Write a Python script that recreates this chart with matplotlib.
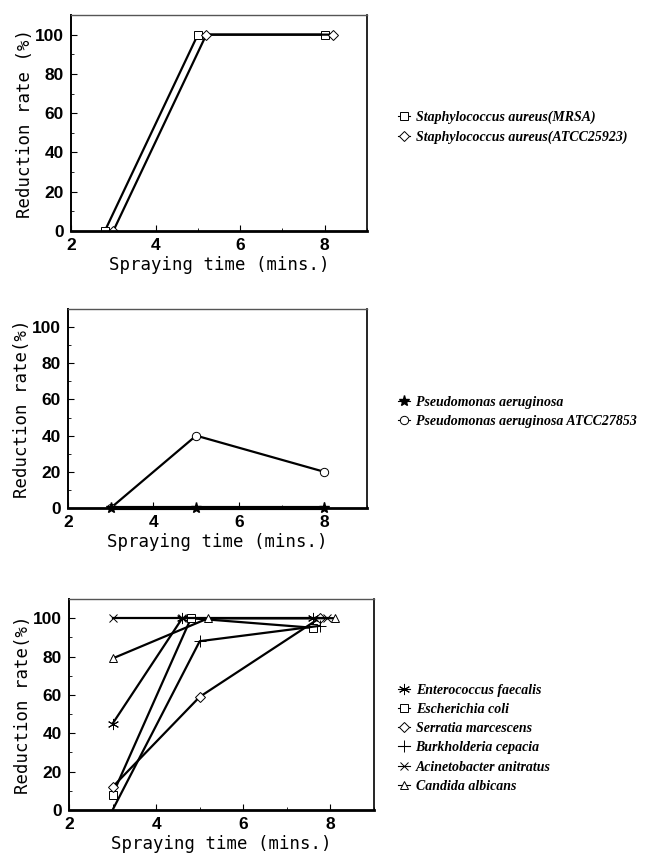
import matplotlib
matplotlib.use("Agg")
import matplotlib.pyplot as plt
from matplotlib.ticker import MultipleLocator
from matplotlib.font_manager import FontProperties

# panel 1 : Staphylococcus
mrsa_x = [2.8, 5.0, 8.0]
mrsa_y = [0, 100, 100]
atcc259_x = [3.0, 5.2, 8.2]
atcc259_y = [0, 100, 100]

# panel 2 : Pseudomonas
pa_x = [3, 5, 8]
pa_y = [0, 0, 0]
pa278_x = [3, 5, 8]
pa278_y = [0, 40, 20]

# panel 3 : other species
ent_x, ent_y = [3, 4.6, 7.6], [45, 100, 100]
eco_x, eco_y = [3, 4.8, 7.6], [8, 100, 95]
ser_x, ser_y = [3, 5.0, 7.75], [12, 59, 100]
bur_x, bur_y = [3, 5.0, 7.75], [0, 88, 96]
aci_x, aci_y = [3, 4.6, 7.93], [100, 100, 100]
can_x, can_y = [3, 5.2, 8.1], [79, 100, 100]

W, H = 652, 861
fig = plt.figure(figsize=(W / 100, H / 100), dpi=100)

mono = "DejaVu Sans Mono"
tickfont = {"family": "Liberation Sans", "size": 12.5, "weight": "bold"}
legfont = {"family": "Liberation Serif", "size": 10, "weight": "bold", "style": "italic"}


def make_axes(left, top, right, bottom):
    ax = fig.add_axes([left / W, 1 - bottom / H, (right - left) / W, (bottom - top) / H])
    ax.set_xlim(2, 9)
    ax.set_ylim(0, 110)
    ax.xaxis.set_minor_locator(MultipleLocator(1))
    ax.yaxis.set_major_locator(MultipleLocator(20))
    ax.yaxis.set_minor_locator(MultipleLocator(10))
    ax.set_xticks([2, 4, 6, 8])
    ax.tick_params(which="both", direction="in", top=False, right=False)
    ax.tick_params(which="major", length=4, width=0.8, pad=5)
    ax.tick_params(which="minor", length=2, width=0.6)
    for lab in ax.get_xticklabels() + ax.get_yticklabels():
        lab.set_fontproperties(FontProperties(**tickfont))
    ax.spines["bottom"].set_linewidth(2.0)
    ax.spines["left"].set_linewidth(1.4)
    ax.spines["right"].set_linewidth(1.2)
    ax.spines["top"].set_linewidth(1.0)
    ax.spines["top"].set_color("#555555")
    ax.set_xlabel("Spraying time (mins.)", family=mono, fontsize=12.5, labelpad=2)
    return ax


def legend(ax, x, y):
    leg = ax.legend(loc="upper left", bbox_to_anchor=(x / W, 1 - y / H),
                    bbox_transform=fig.transFigure, frameon=False,
                    prop=FontProperties(**legfont),
                    handlelength=0.9, handletextpad=0.4, labelspacing=0.45,
                    borderaxespad=0)
    for h in leg.legend_handles:
        h.set_linewidth(0.8)
    return leg


mk = dict(color="black", lw=1.6, mfc="white", mec="black", ms=6, mew=0.7)

ax1 = make_axes(71, 15, 367, 231)
ax1.plot(mrsa_x, mrsa_y, marker="s", label="Staphylococcus aureus(MRSA)", **mk)
ax1.plot(atcc259_x, atcc259_y, marker="D", label="Staphylococcus aureus(ATCC25923)",
         **{**mk, "ms": 5})
ax1.set_ylabel("Reduction rate (%)", family=mono, fontsize=12.5, labelpad=1)
legend(ax1, 392, 105)

ax2 = make_axes(68, 309, 367, 508)
ax2.plot(pa_x, pa_y, marker="*", color="black", lw=3, ms=8, mfc="black", mec="black",
         label="Pseudomonas aeruginosa", clip_on=False, zorder=3)
ax2.plot(pa278_x, pa278_y, marker="o", label="Pseudomonas aeruginosa ATCC27853", **mk)
ax2.set_ylabel("Reduction rate(%)", family=mono, fontsize=12.5, labelpad=1)
legend(ax2, 392, 390)

ax3 = make_axes(69, 599, 374, 810)
ax3.plot(ent_x, ent_y, marker=(6, 2, 0), label="Enterococcus faecalis", **{**mk, "ms": 8})
ax3.plot(eco_x, eco_y, marker="s", label="Escherichia coli", **mk)
ax3.plot(ser_x, ser_y, marker="D", label="Serratia marcescens", **{**mk, "ms": 5})
ax3.plot(bur_x, bur_y, marker="+", label="Burkholderia cepacia", **{**mk, "ms": 8})
ax3.plot(aci_x, aci_y, marker="x", label="Acinetobacter anitratus", **mk)
ax3.plot(can_x, can_y, marker="^", label="Candida albicans", **mk)
ax3.set_ylabel("Reduction rate(%)", family=mono, fontsize=12.5, labelpad=1)
legend(ax3, 392, 678)

fig.savefig("out.png", dpi=100)
